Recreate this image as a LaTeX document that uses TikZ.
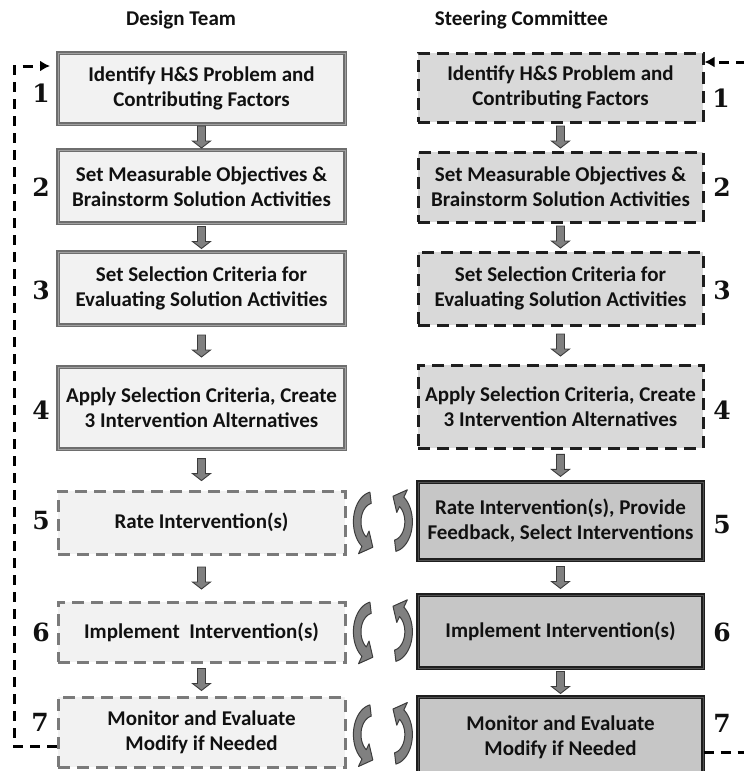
\documentclass[tikz,border=0pt]{standalone}
\usepackage{fontspec}
\setmainfont{Carlito}
\newfontfamily\numfont{DejaVu Serif}
\usetikzlibrary{arrows.meta,calc}
\definecolor{lfill}{HTML}{F2F2F2}
\definecolor{rfillA}{HTML}{D9D9D9}
\definecolor{rfillB}{HTML}{C6C6C6}
\definecolor{lborder}{HTML}{6E6E6E}
\definecolor{lborderin}{HTML}{A0A0A0}
\definecolor{ldash}{HTML}{7A7A7A}
\definecolor{rborder}{HTML}{1E1E1E}
\definecolor{rborderin}{HTML}{505050}
\definecolor{txt}{HTML}{111111}
\definecolor{arrfill}{HTML}{808080}
\definecolor{arredge}{HTML}{3C3C3C}
\tikzset{
  box/.style={rectangle, inner sep=0pt, align=center, text=txt,
    font=\fontsize{21}{25}\selectfont\bfseries},
  lsolid/.style={box, fill=lfill, draw=lborder, double=lborderin, double distance=1pt, line width=1.3pt,
    minimum width=287pt},
  ldashed/.style={box, fill=lfill, draw=ldash, line width=3pt, dash pattern=on 12pt off 7pt,
    minimum width=287pt},
  rdashed/.style={box, fill=rfillA, draw=rborder, line width=3pt, dash pattern=on 12pt off 7pt,
    minimum width=285pt},
  rsolid/.style={box, fill=rfillB, draw=rborder, double=rborderin, double distance=0.7pt, line width=1.4pt,
    minimum width=285pt},
  num/.style={inner sep=0pt, text=txt, font=\numfont\bfseries\fontsize{25}{25}\selectfont},
  title/.style={inner sep=0pt, text=txt, font=\fontsize{21}{25}\selectfont\bfseries},
  barrow/.style={fill=arrfill, draw=arredge, line width=0.9pt, line join=miter},
  swirl/.style={fill=arrfill, draw=arredge, line width=1pt, line join=round},
  loopline/.style={draw=black, line width=3pt, dash pattern=on 10pt off 7pt},
}
\newcommand\blockarrow[2]{%
  \path[barrow] let \p1=($(#1.south)!0.5!(#2.north)$) in
    (\x1-4pt,\y1+11pt) -- (\x1-4pt,\y1-4pt) -- (\x1-9pt,\y1-4pt) -- (\x1,\y1-11pt)
    -- (\x1+9pt,\y1-4pt) -- (\x1+4pt,\y1-4pt) -- (\x1+4pt,\y1+11pt) -- cycle;}
\newcommand\swirlshape{%
  \path[swirl] plot[domain=100:235,samples=30] ({cos(\x)},{sin(\x)}) -- (235:1.3) -- (268:0.85)
    -- (235:0.38) -- plot[domain=235:100,samples=30] ({0.62*cos(\x)},{0.62*sin(\x)}) -- cycle;}
\newcommand\swirlpair[1]{%
  \begin{scope}[shift={($(L#1.east)!0.5!(R#1.west)$)}]
    \begin{scope}[shift={(-8.5,0)}, x=20pt, y=30pt]\swirlshape\end{scope}
    \begin{scope}[shift={(10.5,0)}, x=-20pt, y=-30pt]\swirlshape\end{scope}
  \end{scope}}
\begin{document}
\begin{tikzpicture}[x=1pt,y=-1pt]
\useasboundingbox (0,0) rectangle (744,771);
\clip (0,0) rectangle (744,771);
\fill[white] (0,0) rectangle (744,771);
% titles
\node[title] (t1) at (181,20) {Design Team};
\node[title] (t2) at (521.5,20) {Steering Committee};
% left column
\node[lsolid, minimum height=71pt] (L1) at (201.5,88.5) {Identify H\&S Problem and\\Contributing Factors};
\node[lsolid, minimum height=73pt] (L2) at (201.5,186.5) {Set Measurable Objectives \&\\Brainstorm Solution Activities};
\node[lsolid, minimum height=73pt] (L3) at (201.5,288.5) {Set Selection Criteria for\\Evaluating Solution Activities};
\node[lsolid, minimum height=82pt] (L4) at (201.5,408) {Apply Selection Criteria, Create\\3 Intervention Alternatives};
\node[ldashed, minimum height=63pt] (L5) at (201.5,522.5) {Rate Intervention(s)};
\node[ldashed, minimum height=60pt] (L6) at (201.5,632) {Implement\ \ Intervention(s)};
\node[ldashed, minimum height=70pt] (L7) at (201.5,732) {Monitor and Evaluate\\Modify if Needed};
% right column
\node[rdashed, minimum height=69pt] (R1) at (560.5,87.5) {Identify H\&S Problem and\\Contributing Factors};
\node[rdashed, minimum height=70pt] (R2) at (560.5,187) {Set Measurable Objectives \&\\Brainstorm Solution Activities};
\node[rdashed, minimum height=73pt] (R3) at (560.5,288.5) {Set Selection Criteria for\\Evaluating Solution Activities};
\node[rdashed, minimum height=83pt] (R4) at (560.5,406.5) {Apply Selection Criteria, Create\\3 Intervention Alternatives};
\node[rsolid, minimum height=78pt] (R5) at (560.5,521) {Rate Intervention(s), Provide\\Feedback, Select Interventions};
\node[rsolid, minimum height=73pt] (R6) at (560.5,631.5) {Implement Intervention(s)};
\node[rsolid, minimum height=80pt] (R7) at (560.5,737) {Monitor and Evaluate\\Modify if Needed};
% numbers
\node[num] (nl1) at (41,93) {1};
\node[num] (nl2) at (41,187) {2};
\node[num] (nl3) at (41,290) {3};
\node[num] (nl4) at (41,410) {4};
\node[num] (nl5) at (41,521) {5};
\node[num] (nl6) at (41,632) {6};
\node[num] (nl7) at (40,722) {7};
\node[num] (nr1) at (721,98) {1};
\node[num] (nr2) at (722,187) {2};
\node[num] (nr3) at (722,290) {3};
\node[num] (nr4) at (722,410) {4};
\node[num] (nr5) at (722,525) {5};
\node[num] (nr6) at (722,632) {6};
\node[num] (nr7) at (722,723) {7};
% block arrows
\blockarrow{L1}{L2}\blockarrow{L2}{L3}\blockarrow{L3}{L4}\blockarrow{L4}{L5}\blockarrow{L5}{L6}\blockarrow{L6}{L7}
\blockarrow{R1}{R2}\blockarrow{R2}{R3}\blockarrow{R3}{R4}\blockarrow{R4}{R5}\blockarrow{R5}{R6}\blockarrow{R6}{R7}
% curved exchange arrows
\swirlpair{5}\swirlpair{6}\swirlpair{7}
% feedback loops
\coordinate (lb) at (14,746);
\coordinate (lt) at (14,66);
\coordinate (lend) at (50,66);
\draw[loopline, -{Latex[length=10pt,width=11pt]}] (L7.west |- lb) -- (lb) -- (lt) -- (lend);
\coordinate (rb) at (746,752);
\coordinate (rt) at (746,62);
\draw[loopline] (R7.east |- rb) -- (rb);
\draw[loopline, -{Latex[length=10pt,width=11pt]}] (rt) -- (R1.east |- rt);
\end{tikzpicture}
\end{document}
